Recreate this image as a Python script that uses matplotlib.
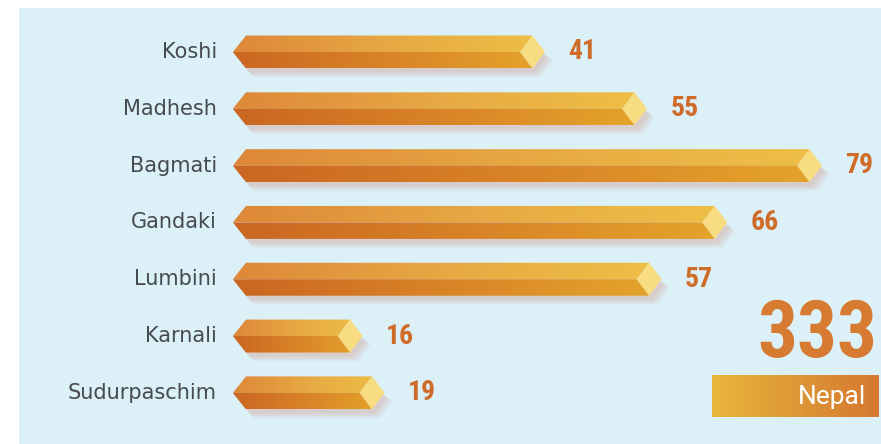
import numpy as np
import matplotlib
matplotlib.use("Agg")
import matplotlib.pyplot as plt
from matplotlib.patches import Polygon, Rectangle
from matplotlib.colors import LinearSegmentedColormap

provinces = ["Koshi", "Madhesh", "Bagmati", "Gandaki", "Lumbini", "Karnali", "Sudurpaschim"]
counts = [41, 55, 79, 66, 57, 16, 19]
total_label = "333"
total_name = "Nepal"

C_PANEL = "#dcf0f7"
C_LABEL = "#464b50"
C_VALUE = "#cf6c2a"
C_TOTAL = "#d77b32"
C_CAP = "#f7dc82"
C_SHADOW = "#d8998a"

top_cmap = LinearSegmentedColormap.from_list("top", ["#de8839", "#e7a943", "#eec046"])
bot_cmap = LinearSegmentedColormap.from_list("bot", ["#ca6621", "#d98427", "#e4a52b"])
box_cmap = LinearSegmentedColormap.from_list("box", ["#e8b63c", "#d4782f"])

NARROW = ["Roboto Condensed", "Liberation Sans Narrow", "Roboto"]
plt.rcParams["font.family"] = ["DejaVu Sans"]

fig = plt.figure(figsize=(8.81, 4.44), dpi=100)
fig.patch.set_facecolor("white")
fig.patches.append(Rectangle((19 / 881, 0), 1, 436 / 444, transform=fig.transFigure,
                             facecolor=C_PANEL, edgecolor="none", zorder=-10))

ax = fig.add_axes([0, 0, 1, 1])
ax.set_facecolor("none")
ax.axis("off")

XLIM = (-33.74, 87.1)
YLIM = (6.90, -0.915)
h = 0.29      # half bar height (category units)
tip = 1.8     # length of pointed left end
cap = 1.7     # half width of the end cap


def gradient_fill(poly, cmap, x0, x1, y0, y1, z):
    ax.add_patch(poly)
    grad = np.linspace(0, 1, 256).reshape(1, -1)
    im = ax.imshow(grad, cmap=cmap, extent=(x0, x1, y1, y0), aspect="auto",
                   interpolation="bilinear", zorder=z)
    im.set_clip_path(poly)


for i, (name, v) in enumerate(zip(provinces, counts)):
    yt, yb = i - h, i + h
    x0 = -tip

    # soft drop shadow
    for k in range(8):
        dx = 0.3 + 0.12 * k
        dy = 0.06 + 0.014 * k
        sh = [(x0 + dx, i + dy), (0 + dx, yt + dy + 0.15), (v - cap + dx, yt + dy + 0.15),
              (v + dx, i + dy), (v - cap + dx, yb + dy), (0 + dx, yb + dy)]
        ax.add_patch(Polygon(sh, closed=True, facecolor=C_SHADOW, edgecolor="none",
                             alpha=0.055, zorder=1))

    upper = Polygon([(x0, i), (0, yt), (v - cap, yt), (v - 2 * cap, i)], closed=True,
                    facecolor="none", edgecolor="none")
    lower = Polygon([(x0, i), (v - 2 * cap, i), (v - cap, yb), (0, yb)], closed=True,
                    facecolor="none", edgecolor="none")
    gradient_fill(upper, top_cmap, x0, v, yt, i, 2)
    gradient_fill(lower, bot_cmap, x0, v, i, yb, 2)

    ax.add_patch(Polygon([(v - 2 * cap, i), (v - cap, yt), (v, i), (v - cap, yb)], closed=True,
                         facecolor=C_CAP, edgecolor="none", zorder=3))

    ax.text(-4.0, i, name, ha="right", va="center", fontsize=15, color=C_LABEL)
    ax.text(v + 3.2, i, str(v), ha="left", va="center", fontsize=20, fontweight="bold",
            color=C_VALUE, family=NARROW)

# national total
bx0, bx1 = 712, 879
by0, by1 = 375, 417
bax = fig.add_axes([bx0 / 881, 1 - by1 / 444, (bx1 - bx0) / 881, (by1 - by0) / 444])
bax.axis("off")
bax.imshow(np.linspace(0, 1, 256).reshape(1, -1), cmap=box_cmap, aspect="auto",
           extent=(0, 1, 0, 1), interpolation="bilinear")
bax.set_xlim(0, 1)
bax.set_ylim(0, 1)
bax.text(0.925, 0.47, total_name, ha="right", va="center", fontsize=19, color="white",
         transform=bax.transAxes, family=["Roboto"])

fig.text(877 / 881, 1 - 335 / 444, total_label, ha="right", va="center", fontsize=57,
         fontweight="bold", color=C_TOTAL, family=NARROW)

ax.set_xlim(*XLIM)
ax.set_ylim(*YLIM)

fig.savefig("out.png", dpi=100, facecolor=fig.get_facecolor())
